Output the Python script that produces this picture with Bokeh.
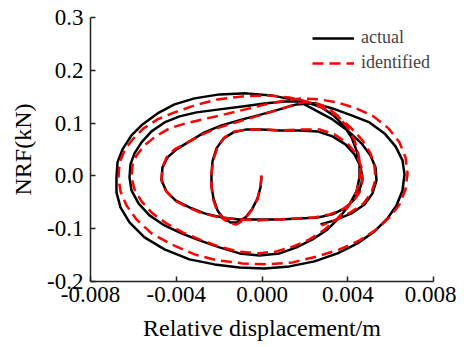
from bokeh.plotting import figure
from bokeh.models import FixedTicker, PrintfTickFormatter, Range1d
from bokeh.embed import file_html
from bokeh.resources import INLINE

# Relative displacement (m) and NRF (kN) of the measured ("actual") loop
actual_disp = [
    -0.023e-3, -0.070e-3, -0.210e-3, -0.443e-3, -0.770e-3, -1.143e-3, -1.469e-3, -1.796e-3, -2.076e-3, -2.263e-3,
    -2.356e-3, -2.356e-3, -2.309e-3, -2.123e-3, -1.796e-3, -1.330e-3, -0.723e-3, -0.023e-3, 0.816e-3, 1.749e-3,
    2.589e-3, 3.289e-3, 3.895e-3, 4.315e-3, 4.595e-3, 4.688e-3, 4.548e-3, 4.268e-3, 3.849e-3, 3.289e-3,
    2.589e-3, 1.749e-3, 0.816e-3, -0.117e-3, -1.050e-3, -1.889e-3, -2.682e-3, -3.382e-3, -4.035e-3, -4.455e-3,
    -4.688e-3,
    -4.642e-3, -4.408e-3, -3.989e-3, -3.382e-3, -2.682e-3, -1.889e-3, -0.910e-3, -0.023e-3, 0.816e-3, 1.609e-3,
    2.216e-3, 2.776e-3, 3.335e-3, 3.802e-3, 4.175e-3, 4.408e-3, 4.548e-3, 4.548e-3, 4.408e-3, 4.082e-3,
    3.615e-3, 3.056e-3, 2.356e-3, 1.609e-3, 0.816e-3, -0.117e-3, -1.050e-3, -1.983e-3, -2.916e-3, -3.755e-3,
    -4.548e-3, -5.248e-3, -5.761e-3, -6.088e-3, -6.181e-3,
    -6.134e-3, -5.948e-3, -5.621e-3, -5.155e-3, -4.548e-3, -3.849e-3, -3.056e-3, -1.983e-3, -0.910e-3, 0.117e-3,
    1.050e-3, 1.749e-3, 2.449e-3, 3.289e-3, 4.175e-3, 5.015e-3, 5.715e-3, 6.228e-3, 6.554e-3, 6.648e-3,
    6.554e-3, 6.274e-3, 5.855e-3, 5.248e-3, 4.455e-3, 3.522e-3, 2.449e-3, 1.283e-3, 0.117e-3, -1.050e-3,
    -2.216e-3, -3.382e-3, -4.548e-3, -5.481e-3, -6.181e-3, -6.601e-3, -6.788e-3, -6.788e-3,
    -6.741e-3, -6.508e-3, -6.088e-3, -5.575e-3, -4.875e-3, -4.082e-3, -3.149e-3, -1.983e-3, -0.723e-3, 0.443e-3,
    1.376e-3, 1.983e-3, 2.589e-3, 3.289e-3, 3.989e-3, 4.642e-3, 5.062e-3, 5.295e-3, 5.341e-3, 5.155e-3,
    4.782e-3, 4.175e-3, 3.382e-3, 2.729e-3,
]
actual_nrf = [
    -0.0009, -0.0218, -0.0426, -0.0616, -0.0786, -0.0881, -0.0881, -0.0805, -0.0653, -0.0426,
    -0.0199, 0.0028, 0.0275, 0.0521, 0.0710, 0.0824, 0.0881, 0.0881, 0.0862, 0.0862,
    0.0843, 0.0748, 0.0597, 0.0407, 0.0180, -0.0047, -0.0275, -0.0464, -0.0616, -0.0729,
    -0.0786, -0.0805, -0.0824, -0.0824, -0.0824, -0.0786, -0.0710, -0.0597, -0.0464, -0.0294,
    -0.0085,
    0.0161, 0.0350, 0.0502, 0.0653, 0.0824, 0.0956, 0.1070, 0.1165, 0.1260, 0.1354,
    0.1373, 0.1297, 0.1146, 0.0956, 0.0729, 0.0483, 0.0237, -0.0028, -0.0294, -0.0540,
    -0.0786, -0.1013, -0.1203, -0.1354, -0.1468, -0.1506, -0.1468, -0.1354, -0.1222, -0.1089,
    -0.0938, -0.0748, -0.0521, -0.0275, -0.0028,
    0.0218, 0.0426, 0.0634, 0.0843, 0.1013, 0.1127, 0.1203, 0.1260, 0.1316, 0.1373,
    0.1411, 0.1411, 0.1373, 0.1278, 0.1146, 0.1013, 0.0805, 0.0559, 0.0294, 0.0028,
    -0.0275, -0.0559, -0.0805, -0.1051, -0.1278, -0.1468, -0.1619, -0.1714, -0.1752, -0.1733,
    -0.1676, -0.1581, -0.1392, -0.1165, -0.0881, -0.0597, -0.0313, -0.0028,
    0.0256, 0.0502, 0.0767, 0.0975, 0.1184, 0.1354, 0.1468, 0.1544, 0.1563, 0.1525,
    0.1449, 0.1354, 0.1222, 0.1070, 0.0862, 0.0616, 0.0388, 0.0161, -0.0085, -0.0331,
    -0.0540, -0.0710, -0.0843, -0.0919,
]

# Relative displacement (m) and NRF (kN) of the identified model
identified_disp = [
    -0.023e-3, -0.070e-3, -0.210e-3, -0.490e-3, -0.816e-3, -1.190e-3, -1.516e-3, -1.843e-3, -2.123e-3, -2.309e-3,
    -2.356e-3, -2.356e-3, -2.263e-3, -2.076e-3, -1.749e-3, -1.283e-3, -0.676e-3, 0.023e-3, 0.910e-3, 1.843e-3,
    2.682e-3, 3.382e-3, 3.989e-3, 4.408e-3, 4.642e-3, 4.688e-3, 4.548e-3, 4.222e-3, 3.755e-3, 3.149e-3,
    2.449e-3, 1.609e-3, 0.723e-3, -0.210e-3, -1.143e-3, -1.983e-3, -2.776e-3, -3.475e-3, -4.082e-3, -4.502e-3,
    -4.688e-3,
    -4.642e-3, -4.455e-3, -4.082e-3, -3.475e-3, -2.776e-3, -1.983e-3, -1.050e-3, -0.117e-3, 0.816e-3, 1.656e-3,
    2.309e-3, 2.962e-3, 3.522e-3, 3.989e-3, 4.315e-3, 4.502e-3, 4.595e-3, 4.548e-3, 4.362e-3, 3.989e-3,
    3.475e-3, 2.869e-3, 2.216e-3, 1.469e-3, 0.676e-3, -0.210e-3, -1.143e-3, -2.029e-3, -2.916e-3, -3.709e-3,
    -4.455e-3, -5.108e-3, -5.621e-3, -5.948e-3, -6.088e-3,
    -6.041e-3, -5.855e-3, -5.481e-3, -4.968e-3, -4.315e-3, -3.569e-3, -2.776e-3, -1.749e-3, -0.770e-3, 0.163e-3,
    1.096e-3, 1.889e-3, 2.682e-3, 3.522e-3, 4.408e-3, 5.201e-3, 5.901e-3, 6.414e-3, 6.694e-3, 6.788e-3,
    6.694e-3, 6.414e-3, 5.948e-3, 5.341e-3, 4.548e-3, 3.615e-3, 2.589e-3, 1.423e-3, 0.257e-3, -0.910e-3,
    -2.076e-3, -3.149e-3, -4.222e-3, -5.155e-3, -5.855e-3, -6.321e-3, -6.601e-3, -6.694e-3,
    -6.648e-3, -6.414e-3, -6.041e-3, -5.528e-3, -4.875e-3, -4.082e-3, -3.149e-3, -2.076e-3, -0.910e-3, 0.257e-3,
    1.283e-3, 2.076e-3, 2.776e-3, 3.475e-3, 4.129e-3, 4.688e-3, 5.062e-3, 5.248e-3, 5.295e-3, 5.108e-3,
    4.735e-3, 4.129e-3, 3.429e-3, 2.776e-3,
]
identified_nrf = [
    0.0009, -0.0218, -0.0445, -0.0653, -0.0824, -0.0919, -0.0900, -0.0805, -0.0634, -0.0407,
    -0.0180, 0.0047, 0.0313, 0.0540, 0.0729, 0.0843, 0.0881, 0.0881, 0.0862, 0.0881,
    0.0881, 0.0786, 0.0616, 0.0407, 0.0161, -0.0085, -0.0313, -0.0502, -0.0634, -0.0729,
    -0.0786, -0.0805, -0.0824, -0.0843, -0.0824, -0.0786, -0.0710, -0.0597, -0.0464, -0.0275,
    -0.0066,
    0.0161, 0.0350, 0.0502, 0.0634, 0.0786, 0.0919, 0.1032, 0.1146, 0.1260, 0.1373,
    0.1411, 0.1316, 0.1146, 0.0919, 0.0672, 0.0407, 0.0161, -0.0104, -0.0350, -0.0597,
    -0.0824, -0.1032, -0.1203, -0.1335, -0.1430, -0.1468, -0.1430, -0.1335, -0.1203, -0.1070,
    -0.0900, -0.0710, -0.0483, -0.0256, -0.0028,
    0.0199, 0.0388, 0.0578, 0.0748, 0.0900, 0.0994, 0.1070, 0.1165, 0.1260, 0.1354,
    0.1430, 0.1468, 0.1449, 0.1392, 0.1278, 0.1127, 0.0900, 0.0634, 0.0350, 0.0047,
    -0.0256, -0.0540, -0.0786, -0.1013, -0.1222, -0.1392, -0.1525, -0.1638, -0.1676, -0.1657,
    -0.1600, -0.1487, -0.1297, -0.1089, -0.0824, -0.0559, -0.0294, -0.0028,
    0.0237, 0.0483, 0.0691, 0.0900, 0.1070, 0.1203, 0.1335, 0.1449, 0.1506, 0.1525,
    0.1487, 0.1411, 0.1297, 0.1146, 0.0919, 0.0672, 0.0426, 0.0180, -0.0066, -0.0313,
    -0.0521, -0.0691, -0.0843, -0.0938,
]

x_ticks = [-0.008, -0.004, 0.0, 0.004, 0.008]
y_ticks = [-0.2, -0.1, 0.0, 0.1, 0.2, 0.3]
x_title = "Relative displacement/m"
y_title = "NRF(kN)"

FONT = "Liberation Serif"

p = figure(width=456, height=344, output_backend="svg", toolbar_location=None,
           x_range=Range1d(-0.008, 0.008), y_range=Range1d(-0.2, 0.3),
           min_border_left=90, min_border_right=23, min_border_top=17, min_border_bottom=63)

p.line(actual_disp, actual_nrf, line_color="black", line_width=2.5, line_join="round",
       legend_label="actual")
p.line(identified_disp, identified_nrf, line_color="#ff0000", line_width=2.5, line_join="round",
       line_dash="11 6", legend_label="identified")

p.outline_line_color = None
p.xgrid.visible = False
p.ygrid.visible = False
p.background_fill_color = "white"
p.border_fill_color = "white"

for ax in (p.xaxis[0], p.yaxis[0]):
    ax.axis_line_color = "#222222"
    ax.axis_line_width = 1.5
    ax.major_tick_line_color = "#222222"
    ax.major_tick_line_width = 1.5
    ax.major_tick_in = 5
    ax.major_tick_out = 0
    ax.minor_tick_in = 0
    ax.minor_tick_out = 0
    ax.major_label_text_font = FONT
    ax.major_label_text_font_size = "23px"
    ax.major_label_text_color = "black"
    ax.axis_label_text_font = FONT
    ax.axis_label_text_font_size = "24px"
    ax.axis_label_text_font_style = "normal"
    ax.axis_label_text_color = "black"

p.xaxis.ticker = FixedTicker(ticks=x_ticks)
p.yaxis.ticker = FixedTicker(ticks=y_ticks)
p.xaxis.formatter = PrintfTickFormatter(format="%.3f")
p.yaxis.formatter = PrintfTickFormatter(format="%.1f")
p.xaxis.major_label_standoff = 5
p.yaxis.major_label_standoff = 7
p.xaxis.axis_label = x_title
p.yaxis.axis_label = y_title
p.xaxis.axis_label_standoff = 10
p.yaxis.axis_label_standoff = 8

lg = p.legend[0]
lg.location = (222, 208)
lg.border_line_color = None
lg.background_fill_alpha = 0
lg.label_text_font = FONT
lg.label_text_font_size = "18px"
lg.glyph_width = 42
lg.glyph_height = 20
lg.label_height = 20
lg.spacing = 4
lg.padding = 4
lg.margin = 0
lg.label_standoff = 7

open("out.html", "w").write(file_html(p, INLINE))
